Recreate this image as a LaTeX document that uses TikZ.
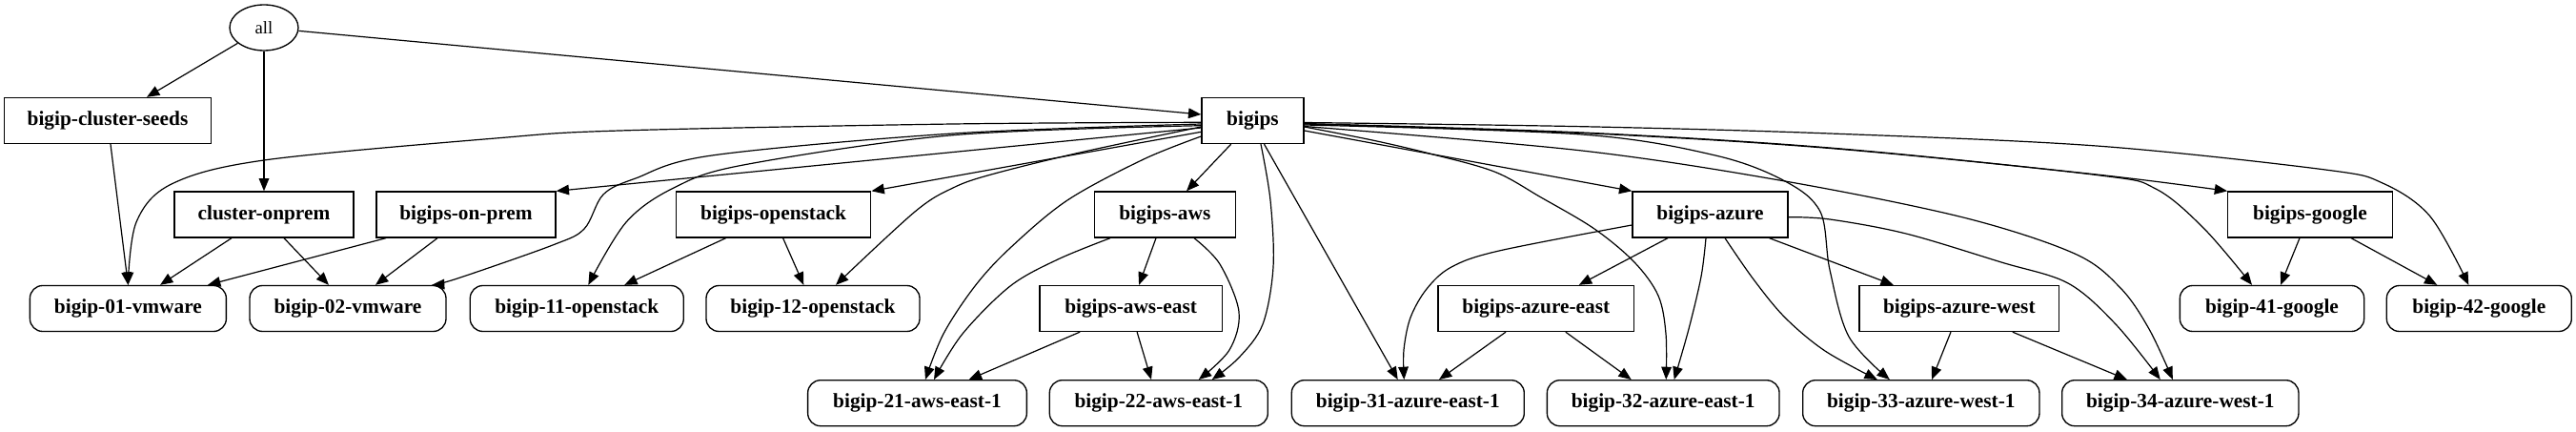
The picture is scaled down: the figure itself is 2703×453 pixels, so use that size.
\documentclass[tikz,border=0pt]{standalone}
\usepackage{fontspec}
\setmainfont{Liberation Serif}
\usetikzlibrary{arrows.meta,shapes.geometric,calc}
\newcommand\lblfont{\bfseries\fontsize{16}{19}\selectfont}
\newcommand\allfont{\fontsize{14}{17}\selectfont}
\tikzset{
  box/.style={draw, rectangle, line width=1pt, minimum height=36pt, inner sep=0pt, font=\lblfont},
  rbox/.style={box, rounded corners=10pt},
  wd/.style={minimum width={#1*0.75pt}},
  edge/.style={draw, line width=0.9pt, -{Triangle[length=10pt,width=8pt]}},
  sm/.style={smooth, tension=0.55}
}
\begin{document}
\begin{tikzpicture}[x=0.75pt, y=-0.75pt]
\useasboundingbox (0,0) rectangle (2703,453);
% row 0
\node[draw, ellipse, line width=1pt, minimum width=54pt, minimum height=36pt, inner sep=0pt, font=\allfont] (all) at (277,29) {all};
% row 1
\node[box, wd=217] (seeds) at (113,126.5) {bigip-cluster-seeds};
\node[box, wd=107] (bigips) at (1314.5,126.5) {bigips};
% row 2
\node[box, wd=188] (onprem) at (277,225) {cluster-onprem};
\node[box, wd=188] (bonprem) at (489,225) {bigips-on-prem};
\node[box, wd=204.4] (bos) at (811.6,225) {bigips-openstack};
\node[box, wd=148] (baws) at (1222.3,225) {bigips-aws};
\node[box, wd=163] (bazure) at (1794.5,225) {bigips-azure};
\node[box, wd=172.4] (bgoogle) at (2424,225) {bigips-google};
% row 3
\node[rbox, wd=206] (v01) at (134.4,323.5) {bigip-01-vmware};
\node[rbox, wd=206] (v02) at (365,323.5) {bigip-02-vmware};
\node[rbox, wd=224] (o11) at (605.3,323.5) {bigip-11-openstack};
\node[rbox, wd=224] (o12) at (853,323.5) {bigip-12-openstack};
\node[box, wd=191.3] (bawseast) at (1186.6,323.5) {bigips-aws-east};
\node[box, wd=205.7] (bazeast) at (1611.8,323.5) {bigips-azure-east};
\node[box, wd=209.7] (bazwest) at (2055.8,323.5) {bigips-azure-west};
\node[rbox, wd=193.3] (g41) at (2384,323.5) {bigip-41-google};
\node[rbox, wd=194] (g42) at (2601.3,323.5) {bigip-42-google};
% row 4
\node[rbox, wd=229.7] (a21) at (962.5,422.7) {bigip-21-aws-east-1};
\node[rbox, wd=229] (a22) at (1215.8,422.7) {bigip-22-aws-east-1};
\node[rbox, wd=244] (z31) at (1477.3,422.7) {bigip-31-azure-east-1};
\node[rbox, wd=243.7] (z32) at (1745.2,422.7) {bigip-32-azure-east-1};
\node[rbox, wd=248.3] (z33) at (2015.8,422.7) {bigip-33-azure-west-1};
\node[rbox, wd=248.3] (z34) at (2287.8,422.7) {bigip-34-azure-west-1};

% edges from all
\draw[edge] (all) -- ($(seeds.north)+(41,0)$);
\draw[edge] (all) -- (onprem);
\draw[edge] (all) -- ($(bigips.west)+(0,-6.5)$);
% left group
\draw[edge] ($(seeds.south)+(3,0)$) -- (v01.north);
\draw[edge] ($(onprem.south)+(-34,0)$) -- ($(v01.north)+(33.6,0)$);
\draw[edge] ($(onprem.south)+(21,0)$) -- ($(v02.north)+(-20,0)$);
\draw[edge] ($(bonprem.south)+(-84,0)$) -- ($(v01.north)+(83.6,0)$);
\draw[edge] ($(bonprem.south)+(-30,0)$) -- ($(v02.north)+(29,0)$);
% bigips straight edges
\draw[edge] ($(bigips.west)+(0,7.5)$) -- (bonprem.north east);
\draw[edge] ($(bigips.west)+(0,11.8)$) -- (bos.north east);
\draw[edge] ($(bigips.south)+(-22.8,0)$) -- ($(baws.north)+(22.7,0)$);
\draw[edge] ($(bigips.east)+(0,10.5)$) -- (bazure.north west);
\draw[edge] ($(bigips.south)+(12,0)$) -- ($(z31.north)+(-10.6,0)$);
% bigips curved edges (west side)
\draw[edge] plot[sm] coordinates {($(bigips.west)+(0,1.8)$) (1000,130) (650,137) (520,145) (277,168) (180,193) (143,233) (v01.north)};
\draw[edge] plot[sm] coordinates {($(bigips.west)+(0,3.5)$) (1000,140) (747,163) (667,187) (633,204) (613,240) (580,257) (480,292) ($(v02.north)+(88,0)$)};
\draw[edge] plot[sm] coordinates {($(bigips.west)+(0,5.2)$) (1000,141.7) (780,173) (707,197) (657,233) ($(o11.north)+(12,0)$)};
\draw[edge] plot[sm] coordinates {($(bigips.west)+(0,6.5)$) (1133,160) (1040,183) (1000,197) (960,222) ($(o12.north)+(24,0)$)};
\draw[edge] plot[sm] coordinates {($(bigips.west)+(0,16.5)$) (1200,167) (1120,210) (1060,260) (1023,300) (990,350) ($(a21.north)+(8.5,0)$)};
% bigips curved edges (south / east side)
\draw[edge] plot[sm] coordinates {($(bigips.south)+(8.5,0)$) (1333,210) (1336,280) (1325,340) (1300,375) ($(a22.north)+(56,0)$)};
\draw[edge] plot[sm] coordinates {($(bigips.east)+(0,6.5)$) (1440,147) (1500,161) (1568,180) (1617,207) (1673,240) (1715,275) (1740,310) (1748,350) ($(z32.north)+(3,0)$)};
\draw[edge] plot[sm] coordinates {($(bigips.east)+(0,4.5)$) (1660,141) (1800,163) (1873,190) (1910,222) (1920,283) (1940,353) ($(z33.north)+(-33,0)$)};
\draw[edge] plot[sm] coordinates {($(bigips.east)+(0,6)$) (1660,158) (1873,190) (2060,228) (2177,266) (2225,302) (2255,345) ($(z34.north)+(-8,0)$)};
\draw[edge] plot[sm] coordinates {($(bigips.east)+(0,3)$) (1660,139) (1920,155) (2200,183) (bgoogle.north west)};
\draw[edge] plot[sm] coordinates {($(bigips.east)+(0,3.5)$) (1660,139.5) (1920,155.5) (2200,183.5) (2262,198) (2313,240) ($(g41.north)+(-21,0)$)};
\draw[edge] plot[sm] coordinates {($(bigips.east)+(0,2)$) (1660,132.7) (1920,140) (2200,153) (2440,178) (2500,192) (2550,227) ($(g42.north)+(-11,0)$)};
% openstack
\draw[edge] ($(bos.south)+(-50,0)$) -- ($(o11.north)+(50,0)$);
\draw[edge] ($(bos.south)+(10,0)$) -- ($(o12.north)+(-9.7,0)$);
% aws
\draw[edge] ($(baws.south)+(-9.3,0)$) -- ($(bawseast.north)+(8.5,0)$);
\draw[edge] plot[sm] coordinates {($(baws.south)+(-57.3,0)$) (1110,272) (1060,300) (1010,350) ($(a21.north)+(17.5,0)$)};
\draw[edge] plot[sm] coordinates {($(baws.south)+(30.7,0)$) (1280,277) (1300,327) (1290,367) ($(a22.north)+(42,0)$)};
\draw[edge] ($(bawseast.south)+(-53.5,0)$) -- ($(a21.north)+(54.2,0)$);
\draw[edge] ($(bawseast.south)+(6.5,0)$) -- ($(a22.north)+(-7.8,0)$);
% azure
\draw[edge] ($(bazure.south)+(-44.5,0)$) -- ($(bazeast.north)+(45,0)$);
\draw[edge] ($(bazure.south)+(62,0)$) -- ($(bazwest.north)+(-69,0)$);
\draw[edge] plot[sm] coordinates {($(bazure.west)+(0,11)$) (1573,263) (1523,280) (1497,303) (1480,333) (1473,367) ($(z31.north)+(-4,0)$)};
\draw[edge] plot[sm] coordinates {($(bazure.south)+(-4.5,0)$) (1785,290) (1772,345) ($(z32.north)+(11.5,0)$)};
\draw[edge] plot[sm] coordinates {($(bazure.south)+(15.5,0)$) (1840,293) (1873,333) (1915,368) ($(z33.north)+(-46,0)$)};
\draw[edge] plot[sm] coordinates {($(bazure.east)+(0,2.7)$) (1920,230) (2000,245) (2100,275) (2170,297) (2220,340) ($(z34.north)+(-21,0)$)};
\draw[edge] ($(bazeast.south)+(-31.8,0)$) -- ($(z31.north)+(32.7,0)$);
\draw[edge] ($(bazeast.south)+(31,0)$) -- ($(z32.north)+(-33.5,0)$);
\draw[edge] ($(bazwest.south)+(-8.8,0)$) -- ($(z33.north)+(11.2,0)$);
\draw[edge] ($(bazwest.south)+(56,0)$) -- ($(z34.north)+(-56,0)$);
% google
\draw[edge] ($(bgoogle.south)+(-11,0)$) -- ($(g41.north)+(9,0)$);
\draw[edge] ($(bgoogle.south)+(43,0)$) -- ($(g42.north)+(-44,0)$);
\end{tikzpicture}
\end{document}
